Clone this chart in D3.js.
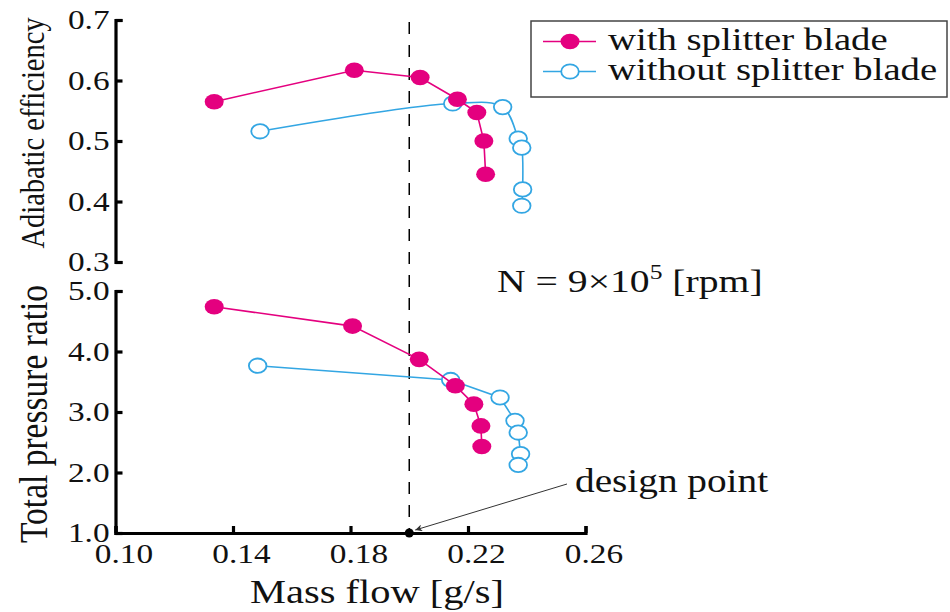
<!DOCTYPE html>
<html><head><meta charset="utf-8">
<script src="https://cdn.jsdelivr.net/npm/d3@7"></script>
<style>
html,body{margin:0;padding:0;background:#fff;}
svg{display:block;}
</style></head>
<body>
<svg id="chart" width="950" height="612"></svg>
<script>
// ---------- data ----------
const seriesNames = ["with splitter blade", "without splitter blade"];
// Adiabatic efficiency panel
const effMassWith    = [0.1336, 0.1813, 0.2037, 0.2164, 0.2230, 0.2254, 0.2260];
const effWith        = [0.565, 0.617, 0.605, 0.569, 0.547, 0.500, 0.445];
const effMassWithout = [0.1492, 0.2148, 0.2318, 0.2371, 0.2383, 0.2386, 0.2383];
const effWithout     = [0.516, 0.562, 0.556, 0.504, 0.489, 0.420, 0.393];
// Total pressure ratio panel
const prMassWith     = [0.1336, 0.1807, 0.2034, 0.2157, 0.2220, 0.2244, 0.2247];
const prWith         = [4.74, 4.42, 3.87, 3.435, 3.13, 2.77, 2.43];
const prMassWithout  = [0.1484, 0.2141, 0.2309, 0.2360, 0.2371, 0.2379, 0.2371];
const prWithout      = [3.765, 3.53, 3.24, 2.855, 2.66, 2.305, 2.125];
// ticks
const xTicks   = [0.10, 0.14, 0.18, 0.22, 0.26];
const effTicks = [0.3, 0.4, 0.5, 0.6, 0.7];
const prTicks  = [1.0, 2.0, 3.0, 4.0, 5.0];
const designMass = 0.20;

// ---------- layout ----------
const FONT = "'Liberation Serif', 'Times New Roman', serif";
const SX = 1.19; // horizontal stretch of the original figure's lettering
const svg = d3.select("#chart");
const colWith = "#e4007f", colWithout = "#33a6e3";
const x = d3.scaleLinear().domain([0.10, 0.26]).range([115.5, 585.5]);
const yEff = d3.scaleLinear().domain([0.3, 0.7]).range([262, 20]);
const yPr  = d3.scaleLinear().domain([1.0, 5.0]).range([533, 291]);

function styleAxis(g){
  g.attr("font-family", null);
  g.selectAll("path.domain").attr("stroke","#000").attr("stroke-width",3.2).attr("fill","none");
  g.selectAll(".tick line").attr("stroke","#000").attr("stroke-width",3.2);
  g.selectAll(".tick text").attr("fill","#111")
    .style("font-size","28px").style("font-family",FONT);
}

// y axes
const gEff = svg.append("g").attr("transform","translate(115.5,0)")
  .call(d3.axisLeft(yEff).tickValues(effTicks).tickFormat(d3.format(".1f"))
    .tickSizeInner(-7).tickSizeOuter(-7).tickPadding(5));
styleAxis(gEff);
gEff.selectAll(".tick text").attr("transform",`scale(${SX},1)`);
const gPr = svg.append("g").attr("transform","translate(115.5,0)")
  .call(d3.axisLeft(yPr).tickValues(prTicks).tickFormat(d3.format(".1f"))
    .tickSizeInner(-7).tickSizeOuter(-7).tickPadding(5));
styleAxis(gPr);
gPr.selectAll(".tick text").attr("transform",`scale(${SX},1)`);
// x axis
const gX = svg.append("g").attr("transform","translate(0,533)")
  .call(d3.axisBottom(x).tickValues(xTicks).tickFormat(d3.format(".2f"))
    .tickSizeInner(-7).tickSizeOuter(-7).tickPadding(10));
styleAxis(gX);
gX.selectAll(".tick text").attr("transform",`translate(8,0) scale(${SX},1)`);

function addText(tx, ty, size, str, anchor, rot, sx){
  return svg.append("text")
    .attr("transform", `translate(${tx},${ty}) scale(${sx||SX},1)` + (rot ? ` rotate(${rot})` : ""))
    .attr("text-anchor", anchor || "start")
    .style("font-family", FONT).style("font-size", size+"px").attr("fill","#111")
    .text(str);
}

// axis titles
addText(44, 133, 28.5, "Adiabatic efficiency", "middle", -90);
addText(47, 414, 33.5, "Total pressure ratio", "middle", -90);
addText(377, 603, 34, "Mass flow [g/s]", "middle");

// design line
svg.append("line").attr("x1",x(designMass)).attr("x2",x(designMass))
  .attr("y1",22).attr("y2",yPr(1.0))
  .attr("stroke","#000").attr("stroke-width",1.5).attr("stroke-dasharray","12,11");

// series drawing
function drawSeries(mass, vals, yScale, color, filled, curve){
  const pts = mass.map((m,i)=>[x(m), yScale(vals[i])]);
  svg.append("path").attr("d", d3.line().curve(curve)(pts))
    .attr("fill","none").attr("stroke",color).attr("stroke-width",1.6);
  svg.append("g").selectAll("ellipse").data(pts).join("ellipse")
    .attr("cx",d=>d[0]).attr("cy",d=>d[1])
    .attr("rx", filled?9.5:8.8).attr("ry", filled?7.8:7.2)
    .attr("fill", filled?color:"#fff")
    .attr("stroke", color).attr("stroke-width", filled?0:1.8);
}
drawSeries(effMassWithout, effWithout, yEff, colWithout, false, d3.curveCatmullRom.alpha(0.5));
drawSeries(effMassWith, effWith, yEff, colWith, true, d3.curveLinear);
drawSeries(prMassWithout, prWithout, yPr, colWithout, false, d3.curveLinear);
drawSeries(prMassWith, prWith, yPr, colWith, true, d3.curveLinear);

// design point marker + annotation
svg.append("circle").attr("cx",x(designMass)).attr("cy",yPr(1.0)).attr("r",4.5).attr("fill","#000");
svg.append("defs").append("marker").attr("id","arr").attr("viewBox","0 0 10 10")
  .attr("refX",10).attr("refY",5).attr("markerWidth",10).attr("markerHeight",7)
  .attr("markerUnits","userSpaceOnUse").attr("orient","auto")
  .append("path").attr("d","M0,0 L10,5 L0,10 L3,5 z").attr("fill","#333");
svg.append("line").attr("x1",567).attr("y1",484).attr("x2",x(designMass)+6).attr("y2",yPr(1.0)-3)
  .attr("stroke","#333").attr("stroke-width",1).attr("marker-end","url(#arr)");
addText(575, 492, 33, "design point");

// speed note
const nt = svg.append("text").attr("transform",`translate(497,292) scale(1.22,1)`)
  .style("font-family",FONT).style("font-size","32.5px").attr("fill","#111");
nt.append("tspan").text("N = 9×10");
nt.append("tspan").attr("dy",-13).style("font-size","21px").text("5");
nt.append("tspan").attr("dy",13).text(" [rpm]");

// legend
const lg = svg.append("g");
lg.append("rect").attr("x",531).attr("y",21).attr("width",416).attr("height",76)
  .attr("fill","#fff").attr("stroke","#444").attr("stroke-width",1.5);
const legRows = [{c:colWith, f:true, y:41.5}, {c:colWithout, f:false, y:71.5}];
legRows.forEach((r,i)=>{
  lg.append("line").attr("x1",543).attr("x2",596).attr("y1",r.y).attr("y2",r.y)
    .attr("stroke",r.c).attr("stroke-width",1.6);
  lg.append("ellipse").attr("cx",570).attr("cy",r.y).attr("rx",r.f?9.5:8.8).attr("ry",r.f?7.8:7.2)
    .attr("fill",r.f?r.c:"#fff").attr("stroke",r.c).attr("stroke-width",r.f?0:1.8);
  lg.append("text").attr("transform",`translate(608,${r.y+8.5}) scale(1.23,1)`)
    .style("font-family",FONT).style("font-size","31.5px").attr("fill","#111").text(seriesNames[i]);
});
</script>
</body></html>
